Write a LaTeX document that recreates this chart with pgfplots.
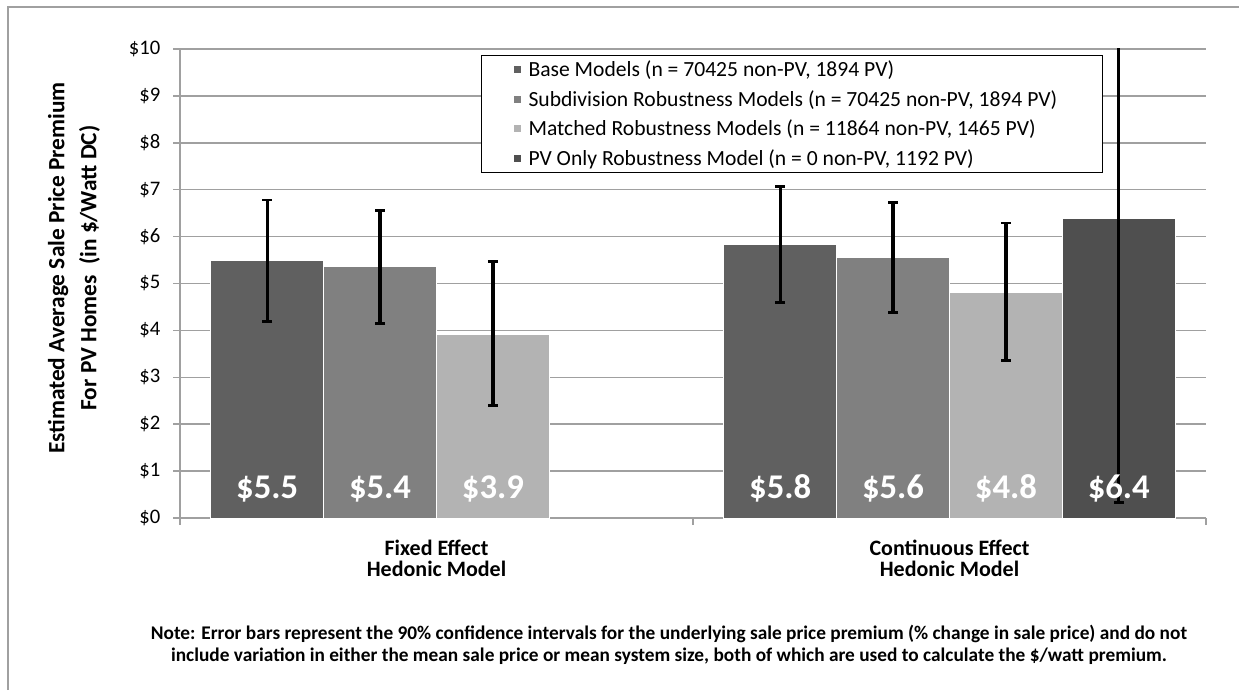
\documentclass[border=0pt]{standalone}
\usepackage{fontspec}
\setmainfont{Carlito}
\usepackage{pgfplots}
\pgfplotsset{compat=1.18}

\definecolor{gridgray}{RGB}{160,160,160}
\definecolor{cA}{RGB}{96,96,96}
\definecolor{cB}{RGB}{128,128,128}
\definecolor{cC}{RGB}{179,179,179}
\definecolor{cD}{RGB}{79,79,79}

\begin{document}
\begin{tikzpicture}[x=0.75pt,y=0.75pt]
\useasboundingbox (0,0) rectangle (1239,690);
% chart frame (cut off at right and bottom)
\draw[gridgray, line width=1.2pt] (8,0) -- (8,683) -- (1239,683);

\begin{axis}[
    at={(135pt,129pt)}, anchor=south west,
    width=769.5pt, height=351.75pt, scale only axis,
    xmin=-0.5, xmax=1.5, ymin=0, ymax=10,
    ybar, bar width=0.22,
    axis lines*=left,
    axis line style={gridgray, line width=1.1pt},
    ymajorgrids, grid style={gridgray, line width=1.1pt},
    tick align=outside, major tick length=5.25pt,
    ytick={0,...,10},
    ytick style={gridgray, line width=1.1pt},
    yticklabel={\$\pgfmathprintnumber[assume math mode=true]{\tick}},
    yticklabel style={font=\fontsize{15.5}{18}\selectfont, xshift=-6pt},
    xtick={0,1},
    xticklabels={{Fixed Effect\\Hedonic Model},{Continuous Effect\\Hedonic Model}},
    xticklabel style={align=center, font=\bfseries\fontsize{16.5}{15.75}\selectfont, yshift=-8pt},
    xtick style={draw=none},
    extra x ticks={-0.5,0.5,1.5},
    extra x tick labels={},
    extra x tick style={xtick style={draw=gridgray, line width=1.1pt}},
    legend cell align=left,
    legend image code/.code={\fill[#1, draw=none] (0pt,-2.6pt) rectangle (5.2pt,2.6pt);},
    legend style={at={(0.2934,0.987)}, anchor=north west, draw=black, line width=0.9pt,
        font=\fontsize{16.2}{19}\selectfont, inner xsep=24pt, inner ysep=2pt,
        row sep=4.7pt, column sep=4pt},
    nodes near coords={\$\pgfmathprintnumber[fixed,fixed zerofill,precision=1,assume math mode=true]{\pgfplotspointmeta}},
    visualization depends on={rawy \as \rawy},
    every node near coord/.append style={shift={(axis direction cs:0,-\rawy)}, anchor=base,
        yshift=15pt, text=white, font=\bfseries\fontsize{26}{26}\selectfont},
]
\pgfplotsset{
    every axis plot/.append style={
        error bars/y dir=both, error bars/y explicit,
        error bars/error mark=-,
        error bars/error bar style={line width=2.5pt, black},
        error bars/error mark options={rotate=90, line width=2.2pt, mark size=3.75pt, black}}}
\addplot[fill=cA, draw=white, line width=0.75pt, bar shift=-0.33]
    coordinates {(0,5.50) += (0,1.28) -= (0,1.32) (1,5.83) += (0,1.23) -= (0,1.23)};
\addplot[fill=cB, draw=white, line width=0.75pt, bar shift=-0.11]
    coordinates {(0,5.36) += (0,1.20) -= (0,1.21) (1,5.56) += (0,1.17) -= (0,1.17)};
\addplot[fill=cC, draw=white, line width=0.75pt, bar shift=0.11]
    coordinates {(0,3.91) += (0,1.56) -= (0,1.52) (1,4.80) += (0,1.49) -= (0,1.45)};
\addplot[fill=cD, draw=white, line width=0.75pt, bar shift=0.33]
    coordinates {(1,6.39) += (0,6.06) -= (0,6.06)};
\legend{{Base Models (n = 70425 non-PV, 1894 PV)},
        {Subdivision Robustness Models (n = 70425 non-PV, 1894 PV)\hspace*{8pt}},
        {Matched Robustness Models (n = 11864 non-PV, 1465 PV)},
        {PV Only Robustness Model (n = 0 non-PV, 1192 PV)}}
\end{axis}

\node[rotate=90, align=center, font=\bfseries\fontsize{17.5}{24}\selectfont]
    at (74,422) {Estimated Average Sale Price Premium\\For PV Homes \ (in \$/Watt DC)};
\node[align=center, font=\bfseries\fontsize{14.5}{16.5}\selectfont]
    at (669,45) {Note: Error bars represent the 90\% confidence intervals for the underlying sale price premium (\% change in sale price) and do not\\
    include variation in either the mean sale price or mean system size, both of which are used to calculate the \$/watt premium.};
\end{tikzpicture}
\end{document}
